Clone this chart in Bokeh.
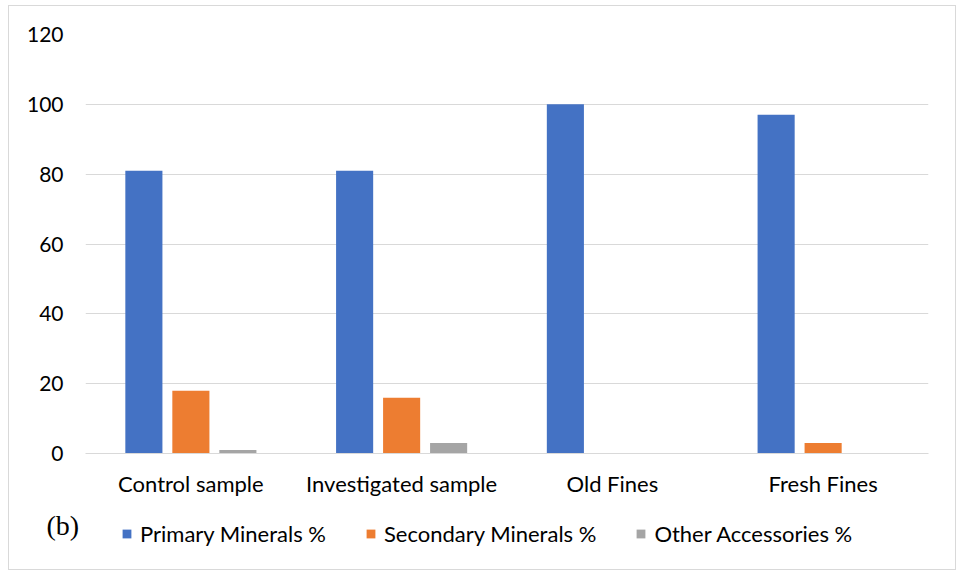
from bokeh.plotting import figure
from bokeh.models import ColumnDataSource, FactorRange, Legend, LegendItem, Label, FixedTicker, Range1d
from bokeh.layouts import column, row
from bokeh.transform import dodge
from bokeh.embed import file_html
from bokeh.resources import INLINE

categories = ["Control sample", "Investigated sample", "Old Fines", "Fresh Fines"]
primary = [81, 81, 100, 97]
secondary = [18, 16, 0, 3]
accessories = [1, 3, 0, 0]
series_names = ["Primary Minerals %", "Secondary Minerals %", "Other Accessories %"]
colors = ["#4472C4", "#ED7D31", "#A5A5A5"]
y_ticks = [0, 20, 40, 60, 80, 100, 120]
panel_tag = "(b)"

src = ColumnDataSource(dict(cat=categories, primary=primary, secondary=secondary, accessories=accessories))

FONT = "Lato"

p = figure(x_range=FactorRange(*categories), y_range=(0, 120),
           frame_width=843, frame_height=419,
           min_border_left=76, min_border_right=27, min_border_top=28, min_border_bottom=50,
           output_backend="svg", toolbar_location=None)

p.outline_line_color = None
p.xgrid.grid_line_color = None
p.ygrid.grid_line_color = "#D9D9D9"
p.ygrid.grid_line_width = 1

p.yaxis.ticker = FixedTicker(ticks=y_ticks)
p.yaxis.axis_line_color = None
p.yaxis.major_tick_line_color = None
p.yaxis.minor_tick_line_color = None
p.yaxis.major_label_text_font = FONT
p.yaxis.major_label_text_font_size = "21px"
p.yaxis.major_label_text_color = "#000000"
p.yaxis.major_label_standoff = 16

p.xaxis.axis_line_color = "#D9D9D9"
p.xaxis.axis_line_width = 1
p.xaxis.major_tick_line_color = None
p.xaxis.minor_tick_line_color = None
p.xaxis.major_label_text_font = FONT
p.xaxis.major_label_text_font_size = "22px"
p.xaxis.major_label_text_color = "#000000"
p.xaxis.major_label_standoff = 10

for field, off, col in zip(["primary", "secondary", "accessories"], [-0.223, 0.0, 0.223], colors):
    p.vbar(x=dodge("cat", off, range=p.x_range), top=field, width=0.176, source=src,
           fill_color=col, line_color=None)

# legend strip
p2 = figure(frame_width=946, frame_height=66, x_range=Range1d(0, 1), y_range=Range1d(0, 1),
            min_border_left=0, min_border_right=0, min_border_top=0, min_border_bottom=0,
            x_axis_location=None, y_axis_location=None,
            output_backend="svg", toolbar_location=None)
p2.grid.visible = False
p2.outline_line_color = None

hidden = ColumnDataSource(dict(x=[5], top=[5]))
dummies = [p2.vbar(x="x", top="top", width=0.1, source=hidden, fill_color=c, line_color=None) for c in colors]

legend = Legend(items=[LegendItem(label=n, renderers=[r]) for n, r in zip(series_names, dummies)],
                orientation="horizontal", location=(112, 22),
                label_text_font=FONT, label_text_font_size="22px", label_text_color="#000000",
                glyph_width=11, glyph_height=11, spacing=39, label_standoff=8,
                border_line_color=None, background_fill_alpha=0, padding=0, margin=0)
p2.add_layout(legend)

lab = Label(x=37, y=44, x_units="screen", y_units="screen", text=panel_tag,
            text_baseline="middle", text_align="left",
            text_font="Liberation Serif", text_font_size="28px", text_color="#000000")
p2.add_layout(lab)

layout = column(p, row(p2), spacing=0, margin=(5, 0, 0, 8),
                styles={"border": "1px solid #D9D9D9", "background-color": "white"})

open("out.html", "w").write(file_html(layout, INLINE))
